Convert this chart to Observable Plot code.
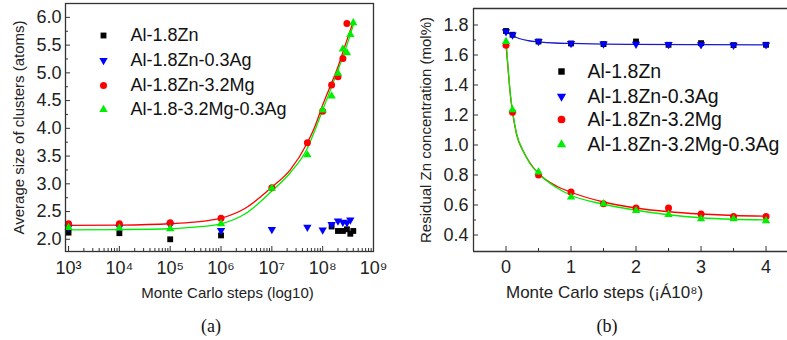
<!DOCTYPE html>
<html><head><meta charset="utf-8">
<script src="https://cdn.jsdelivr.net/npm/d3@7"></script>
<script src="https://cdn.jsdelivr.net/npm/@observablehq/plot@0.6"></script>
<style>
html,body{margin:0;padding:0;background:#fff;}
#wrap{position:relative;width:787px;height:340px;overflow:hidden;background:#fff;}
#pa{position:absolute;left:0;top:0;}
#pb{position:absolute;left:390px;top:0;}
.cap{position:absolute;top:316px;font-family:"Liberation Serif","Times New Roman",serif;font-size:18px;line-height:21px;color:#111;transform:translateX(-50%);}
</style></head><body>
<div id="wrap"><div id="pa"></div><div id="pb"></div>
<div class="cap" style="left:211px">(a)</div><div class="cap" style="left:607px">(b)</div></div>
<script>
// ---------- Panel (a) data: average cluster size vs Monte Carlo steps ----------
const seriesNames = ["Al-1.8Zn", "Al-1.8Zn-0.3Ag", "Al-1.8Zn-3.2Mg", "Al-1.8-3.2Mg-0.3Ag"];
const seriesNamesB = ["Al-1.8Zn", "Al-1.8Zn-0.3Ag", "Al-1.8Zn-3.2Mg", "Al-1.8Zn-3.2Mg-0.3Ag"];
const seriesColors = ["#000000", "#0000ff", "#ff0000", "#00ee00"];

const znStepsA = [1e3, 1e4, 1e5, 1e6, 1.5e8, 2e8, 2.5e8, 3e8, 3.5e8, 4e8];
const znA = [2.12, 2.11, 2.00, 2.07, 2.23, 2.15, 2.15, 2.18, 2.10, 2.15];
const znAgStepsA = [1e3, 1e4, 1e5, 1e6, 1e7, 5e7, 1e8, 1.5e8, 2e8, 2.5e8, 3e8, 3.5e8];
const znAgA = [2.22, 2.22, 2.26, 2.16, 2.18, 2.22, 2.17, 2.27, 2.33, 2.31, 2.30, 2.35];
const znMgStepsA = [1e3, 1e4, 1e5, 1e6, 1e7, 5e7, 1e8, 1.5e8, 2e8, 2.5e8, 3e8];
const znMgA = [2.28, 2.28, 2.30, 2.38, 2.93, 3.74, 4.31, 4.78, 4.93, 5.26, 5.89];
const znMgAgStepsA = [1e3, 1e4, 1e5, 1e6, 1e7, 5e7, 1e8, 1.5e8, 2e8, 2.5e8, 3e8, 3.5e8, 4e8];
const znMgAgA = [2.21, 2.20, 2.19, 2.28, 2.92, 3.52, 4.33, 4.58, 4.99, 5.43, 5.36, 5.69, 5.90];

// fitted curves
const fitStepsA = [1e3, 1e4, 1e5, 3e5, 1e6, 3e6, 1e7, 2.3e7, 5e7, 7e7, 1e8, 2e8, 3e8, 4e8];
const fitMgA = [2.25, 2.255, 2.28, 2.31, 2.38, 2.56, 2.94, 3.25, 3.74, 4.03, 4.42, 5.11, 5.59, 5.92];
const fitMgAgA = [2.17, 2.175, 2.19, 2.22, 2.28, 2.46, 2.87, 3.20, 3.64, 3.96, 4.33, 5.05, 5.50, 5.86];

const xMajorA = [1e3, 1e4, 1e5, 1e6, 1e7, 1e8, 1e9];
const xMinorFactors = [2, 3, 4, 5, 6, 7, 8, 9];
const yMajorA = [2.0, 2.5, 3.0, 3.5, 4.0, 4.5, 5.0, 5.5, 6.0];
const yMinorA = [2.25, 2.75, 3.25, 3.75, 4.25, 4.75, 5.25, 5.75];

// ---------- Panel (b) data: residual Zn concentration ----------
const stepsB = [0, 0.1, 0.5, 1, 1.5, 2, 2.5, 3, 3.5, 4];
const znB = [1.76, 1.735, 1.69, 1.677, 1.673, 1.69, 1.668, 1.679, 1.666, 1.668];
const znAgB = [1.756, 1.734, 1.69, 1.677, 1.674, 1.672, 1.670, 1.669, 1.666, 1.668];
const znMgB = [1.665, 1.219, 0.80, 0.687, 0.608, 0.58, 0.58, 0.54, 0.524, 0.524];
const znMgAgB = [1.69, 1.235, 0.82, 0.652, 0.608, 0.562, 0.536, 0.507, 0.507, 0.495];

const fitStepsB = [0, 0.035, 0.07, 0.1, 0.16, 0.27, 0.37, 0.5, 0.78, 1, 1.5, 2, 2.5, 3, 3.5, 4];
const fitMgB = [1.67, 1.49, 1.32, 1.22, 1.075, 0.955, 0.88, 0.81, 0.725, 0.685, 0.62, 0.58, 0.555, 0.54, 0.53, 0.525];
const fitMgAgB = [1.70, 1.50, 1.33, 1.23, 1.08, 0.955, 0.875, 0.81, 0.715, 0.665, 0.605, 0.565, 0.535, 0.515, 0.505, 0.50];
const fitAgStepsB = [0, 0.05, 0.1, 0.2, 0.35, 0.5, 0.75, 1, 1.5, 2, 3, 4];
const fitAgB = [1.76, 1.745, 1.73, 1.71, 1.695, 1.688, 1.68, 1.677, 1.673, 1.671, 1.669, 1.668];

const xMajorB = [0, 1, 2, 3, 4];
const xMinorB = [0.5, 1.5, 2.5, 3.5];
const yMajorB = [0.4, 0.6, 0.8, 1.0, 1.2, 1.4, 1.6, 1.8];
const yMinorB = [0.5, 0.7, 0.9, 1.1, 1.3, 1.5, 1.7];

// ---------- helpers ----------
const triangleDown = {
  draw(context, size) {
    const y = -Math.sqrt(size / (Math.sqrt(3) * 3));
    context.moveTo(0, -y * 2);
    context.lineTo(-Math.sqrt(3) * y, y);
    context.lineTo(Math.sqrt(3) * y, y);
    context.closePath();
  }
};
const symbols = ["square", triangleDown, "circle", "triangle"];
const radii = [3.3, 3.1, 3.5, 3.1];
const zip = (xs, ys) => xs.map((x, i) => ({x, y: ys[i]}));
const supDigits = {"0":"⁰","1":"¹","2":"²","3":"³","4":"⁴","5":"⁵","6":"⁶","7":"⁷","8":"⁸","9":"⁹"};
const sup = d => "10" + String(Math.round(Math.log10(d))).split("").map(c => supDigits[c]).join("");
const axisColor = "#333";
const font = "'Liberation Sans', Arial, sans-serif";

// legend positions given in the SVG's own pixel space
function legendMarks(names, xMark, xText, rows, mTop, mLeft, fontSize, rScale) {
  const marks = [];
  names.forEach((name, i) => {
    marks.push(Plot.dot([name], {frameAnchor: "top-left", dx: xMark - mLeft, dy: rows[i] - mTop,
      symbol: symbols[i], fill: seriesColors[i], r: radii[i] * rScale}));
    marks.push(Plot.text([name], {frameAnchor: "top-left", dx: xText - mLeft, dy: rows[i] - mTop,
      textAnchor: "start", lineAnchor: "middle", fontSize, fill: "#111"}));
  });
  return marks;
}

// ---------- Panel (a) ----------
const mA = {top: 3, right: 17, bottom: 49, left: 65};
const WA = 390, H = 300;
const innerWA = WA - mA.left - mA.right;
const innerHA = H - mA.top - mA.bottom;
const xMinorA = xMajorA.slice(0, -1).flatMap(d => xMinorFactors.map(f => d * f));
const pointsA = [zip(znStepsA, znA), zip(znAgStepsA, znAgA), zip(znMgStepsA, znMgA), zip(znMgAgStepsA, znMgAgA)];

const plotA = Plot.plot({
  width: WA, height: H,
  marginTop: mA.top, marginRight: mA.right, marginBottom: mA.bottom, marginLeft: mA.left,
  x: {type: "log", domain: [10 ** 2.94, 1e9]},
  y: {domain: [1.78, 6.25]},
  style: {fontFamily: font, fontSize: "16px", color: "#222", background: "white", overflow: "visible"},
  marks: [
    Plot.tickX(xMajorA, {x: d => d, insetTop: innerHA - 5, stroke: axisColor}),
    Plot.tickX(xMinorA, {x: d => d, insetTop: innerHA - 3, stroke: axisColor}),
    Plot.tickY(yMajorA, {y: d => d, insetRight: innerWA - 5, stroke: axisColor}),
    Plot.tickY(yMinorA, {y: d => d, insetRight: innerWA - 3, stroke: axisColor}),
    Plot.axisX(xMajorA, {tickSize: 0, tickPadding: 10, tickFormat: sup, fontSize: 18, label: null}),
    Plot.axisY(yMajorA, {tickSize: 0, tickPadding: 4, tickFormat: d => d.toFixed(1), fontSize: 18, label: null}),
    Plot.text(["Average size of clusters (atoms)"], {frameAnchor: "left", rotate: -90, dx: -46, textAnchor: "middle", lineAnchor: "middle", fontSize: 15, fill: "#222"}),
    Plot.text(["Monte Carlo steps (log10)"], {frameAnchor: "bottom", dy: 42, dx: 8, textAnchor: "middle", lineAnchor: "middle", fontSize: 15, fill: "#222"}),
    Plot.line(zip(fitStepsA, fitMgA), {x: "x", y: "y", stroke: seriesColors[2], strokeWidth: 1.3, curve: "monotone-x"}),
    Plot.line(zip(fitStepsA, fitMgAgA), {x: "x", y: "y", stroke: seriesColors[3], strokeWidth: 1.3, curve: "monotone-x"}),
    ...pointsA.map((pts, i) => Plot.dot(pts, {x: "x", y: "y", symbol: symbols[i], fill: seriesColors[i], r: radii[i]})),
    ...legendMarks(seriesNames, 103, 130, [35, 60, 85, 109], mA.top, mA.left, 18, 1),
    Plot.frame({stroke: axisColor, strokeWidth: 1.3})
  ]
});
document.getElementById("pa").append(plotA);

// ---------- Panel (b) ----------
const offsetB = 390;
const mB = {top: 8, right: 0, bottom: 49, left: 83};
const WB = 397;
const innerWB = WB - mB.left - mB.right;
const innerHB = H - mB.top - mB.bottom;
const xDomB = [-0.5, 4.33];
const yDomB = [0.29, 1.91];
const pointsB = [zip(stepsB, znB), zip(stepsB, znAgB), zip(stepsB, znMgB), zip(stepsB, znMgAgB)];

const plotB = Plot.plot({
  width: WB, height: H,
  marginTop: mB.top, marginRight: mB.right, marginBottom: mB.bottom, marginLeft: mB.left,
  x: {domain: xDomB},
  y: {domain: yDomB},
  style: {fontFamily: font, fontSize: "16px", color: "#222", background: "white", overflow: "visible"},
  marks: [
    Plot.tickX(xMajorB, {x: d => d, insetTop: innerHB - 5, stroke: axisColor}),
    Plot.tickX(xMinorB, {x: d => d, insetTop: innerHB - 3, stroke: axisColor}),
    Plot.tickY(yMajorB, {y: d => d, insetRight: innerWB - 5, stroke: axisColor}),
    Plot.tickY(yMinorB, {y: d => d, insetRight: innerWB - 3, stroke: axisColor}),
    Plot.axisX(xMajorB, {tickSize: 0, tickPadding: 9, tickFormat: d => String(d), fontSize: 18, label: null}),
    Plot.axisY(yMajorB, {tickSize: 0, tickPadding: 5, tickFormat: d => d.toFixed(1), fontSize: 18, label: null}),
    Plot.text(["Residual Zn concentration (mol%)"], {frameAnchor: "left", rotate: -90, dx: -47, textAnchor: "middle", lineAnchor: "middle", fontSize: 15, fill: "#222"}),
    Plot.text(["Monte Carlo steps (¡Á10⁸)"], {frameAnchor: "bottom", dy: 41, dx: -26, textAnchor: "middle", lineAnchor: "middle", fontSize: 17, fill: "#222"}),
    Plot.line(zip(fitAgStepsB, fitAgB), {x: "x", y: "y", stroke: "#1a1acc", strokeWidth: 1.3, curve: "monotone-x"}),
    Plot.line(zip(fitStepsB, fitMgB), {x: "x", y: "y", stroke: seriesColors[2], strokeWidth: 1.3, curve: "monotone-x"}),
    Plot.line(zip(fitStepsB, fitMgAgB), {x: "x", y: "y", stroke: seriesColors[3], strokeWidth: 1.3, curve: "monotone-x"}),
    ...pointsB.map((pts, i) => Plot.dot(pts, {x: "x", y: "y", symbol: symbols[i], fill: seriesColors[i], r: radii[i]})),
    ...legendMarks(seriesNamesB, 561 - offsetB, 587 - offsetB, [71, 96, 119, 144], mB.top, mB.left, 19.5, 1.1),
    Plot.ruleX([xDomB[0]], {stroke: axisColor, strokeWidth: 1.3}),
    Plot.ruleY([yDomB[0]], {stroke: axisColor, strokeWidth: 1.3}),
    Plot.ruleY([yDomB[1]], {stroke: axisColor, strokeWidth: 1.3})
  ]
});
document.getElementById("pb").append(plotB);
</script>
</body></html>
